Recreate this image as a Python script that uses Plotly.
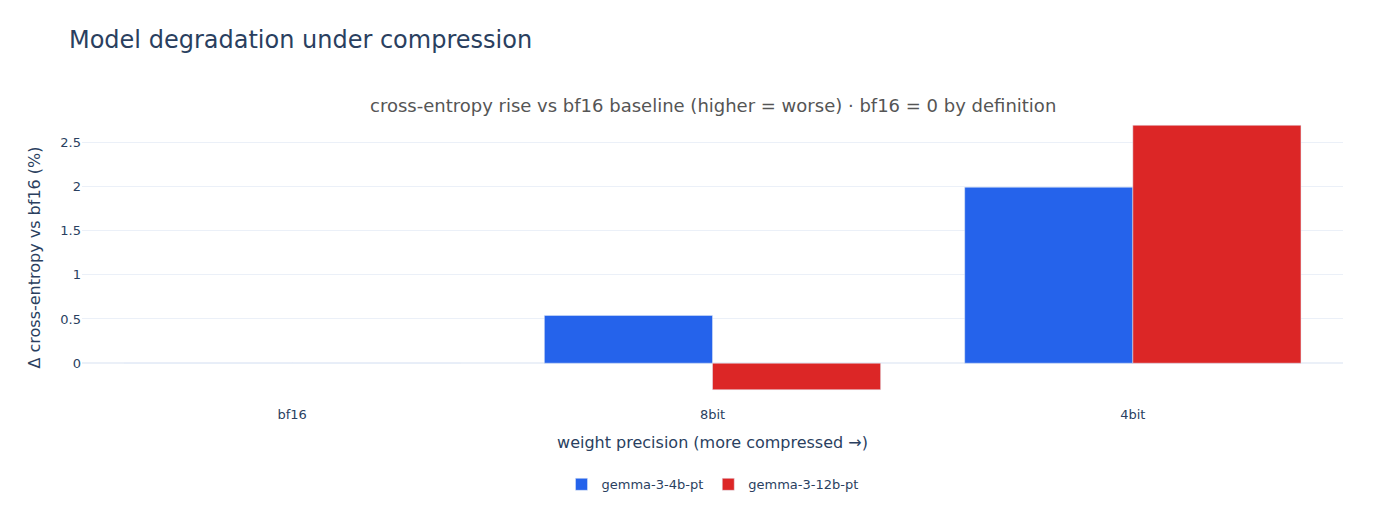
import plotly.graph_objects as go

# values (% rise in cross-entropy vs bf16)
precisions = ["bf16", "8bit", "4bit"]
models = ["gemma-3-4b-pt", "gemma-3-12b-pt"]
delta_4b = [0.0, 0.54, 1.99]
delta_12b = [0.0, -0.30, 2.69]

colors = {"gemma-3-4b-pt": "#2563eb", "gemma-3-12b-pt": "#dc2626"}

fig = go.Figure()
for name, vals in zip(models, [delta_4b, delta_12b]):
    fig.add_trace(go.Bar(
        x=precisions,
        y=vals,
        name=name,
        marker=dict(color=colors[name], line=dict(color="#E5ECF6", width=0.5)),
    ))

fig.update_layout(
    template="plotly_white",
    width=1392,
    height=525,
    barmode="group",
    font=dict(family="DejaVu Sans, Verdana, sans-serif", size=13),
    title=dict(text="Model degradation under compression", x=0.0438, xref="container",
               y=0.939, yanchor="middle", font=dict(size=24)),
    margin=dict(l=74, r=57, t=104, b=130),
    legend=dict(orientation="h", x=0.5, xanchor="center", y=-0.228, yanchor="top",
                font=dict(size=13)),
    xaxis=dict(title=dict(text="weight precision (more compressed →)", font=dict(size=16)),
               ticklabelstandoff=2),
    yaxis=dict(title=dict(text="Δ cross-entropy vs bf16 (%)", font=dict(size=16)),
               range=[-0.45, 2.84]),
)

# subtitle above the plot area
fig.add_annotation(
    text="cross-entropy rise vs bf16 baseline (higher = worse) · bf16 = 0 by definition",
    xref="paper", yref="paper", x=0.5, y=1.0, xanchor="center", yanchor="bottom",
    yshift=-6, showarrow=False, font=dict(size=18, color="#555555"),
)

fig.write_html("out.html")
